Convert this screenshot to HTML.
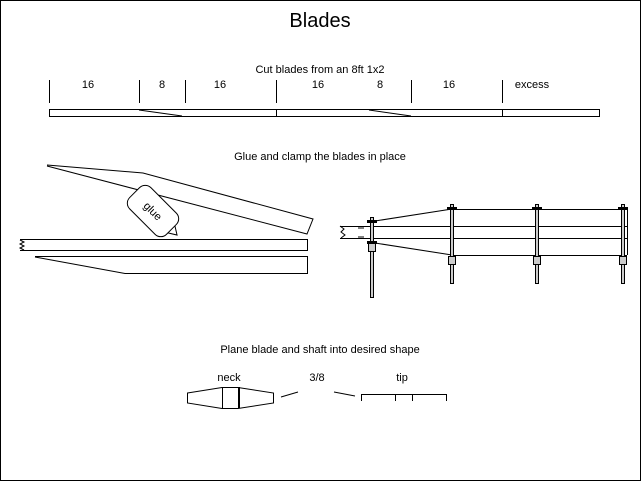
<!DOCTYPE html>
<html><head><style>html,body{margin:0;padding:0;background:#fff}svg{display:block}</style></head><body>
<svg width="641" height="481" viewBox="0 0 641 481" xmlns="http://www.w3.org/2000/svg" font-family="Liberation Sans, sans-serif" fill="none" stroke="#000" stroke-width="1">
<rect x="0.5" y="0.5" width="640" height="480"/>
<g fill="#000" stroke="none" text-anchor="middle">
<text x="320" y="27" font-size="20">Blades</text>
<text x="320" y="73" font-size="11">Cut blades from an 8ft 1x2</text>
<text x="88" y="88" font-size="11">16</text>
<text x="162" y="88" font-size="11">8</text>
<text x="220" y="88" font-size="11">16</text>
<text x="318" y="88" font-size="11">16</text>
<text x="380" y="88" font-size="11">8</text>
<text x="449" y="88" font-size="11">16</text>
<text x="532" y="88" font-size="11">excess</text>
<text x="320" y="160" font-size="11">Glue and clamp the blades in place</text>
<text x="320" y="353" font-size="11">Plane blade and shaft into desired shape</text>
<text x="229" y="381" font-size="11">neck</text>
<text x="317" y="381" font-size="11">3/8</text>
<text x="402" y="381" font-size="11">tip</text>
</g>
<g>
<path d="M49.5 80v23M139.5 80v23M185.5 80v23M276.5 80v23M411.5 80v23M502.5 80v23"/>
<rect x="49.5" y="109.5" width="550" height="7"/>
<path d="M276.5 109v8M502.5 109v8M139 110L182 116M369 110L411 116"/>
<!-- left glue -->
<path d="M47 165L143 173L313 219L307 234L47 166"/>
<g transform="translate(153,211) rotate(45)">
<rect x="-26" y="-15" width="52" height="30" rx="8" fill="#fff"/>
<path d="M26 -5L34 0L26 5"/>
<text x="0" y="4" font-size="11" text-anchor="middle" fill="#000" stroke="none" transform="rotate(0)">glue</text>
</g>
<path d="M20 239.5H307.5V250.5H20M20 240l4 2l-4 2l4 2l-4 2l4 2"/>
<path d="M35 256.5H307.5V273.5H125L35 257"/>
<!-- right clamp -->
<path d="M340 226.5H627M340 238.5H627M452 209.5H627M452 255.5H627M627.5 209v46M375 221L452 209M375 243L452 255"/>
<path d="M340 226l4 3l-3 3l4 3l-4 3"/>
<path d="M358 228h6M358 237h6"/>
<g fill="#ccc">
<rect x="370.5" y="217.5" width="3" height="80"/>
<rect x="450.5" y="204.5" width="3" height="79"/>
<rect x="535.5" y="204.5" width="3" height="79"/>
<rect x="621.5" y="204.5" width="3" height="79"/>
<rect x="368.5" y="243.5" width="7" height="8"/>
<rect x="448.5" y="256.5" width="7" height="8"/>
<rect x="533.5" y="256.5" width="7" height="8"/>
<rect x="619.5" y="256.5" width="7" height="8"/>
</g>
<g fill="#000" stroke="none">
<rect x="367" y="220" width="10" height="3"/>
<rect x="367" y="241" width="10" height="3"/>
<rect x="447" y="207" width="10" height="3"/>
<rect x="532" y="207" width="10" height="3"/>
<rect x="618" y="207" width="10" height="3"/>
</g>
<!-- bottom -->
<path d="M187.5 393L222 387.5H238L273.5 393V403L238 408.5H222L187.5 403Z"/>
<path d="M222.5 387v21"/><path d="M239 387v21" stroke-width="2"/>
<path d="M281 397L298 392M334 392L355 396"/>
<path d="M361.5 401V394.5H446.5V401M395.5 394v7M412.5 394v7"/>
</g>
</svg>
</body></html>
